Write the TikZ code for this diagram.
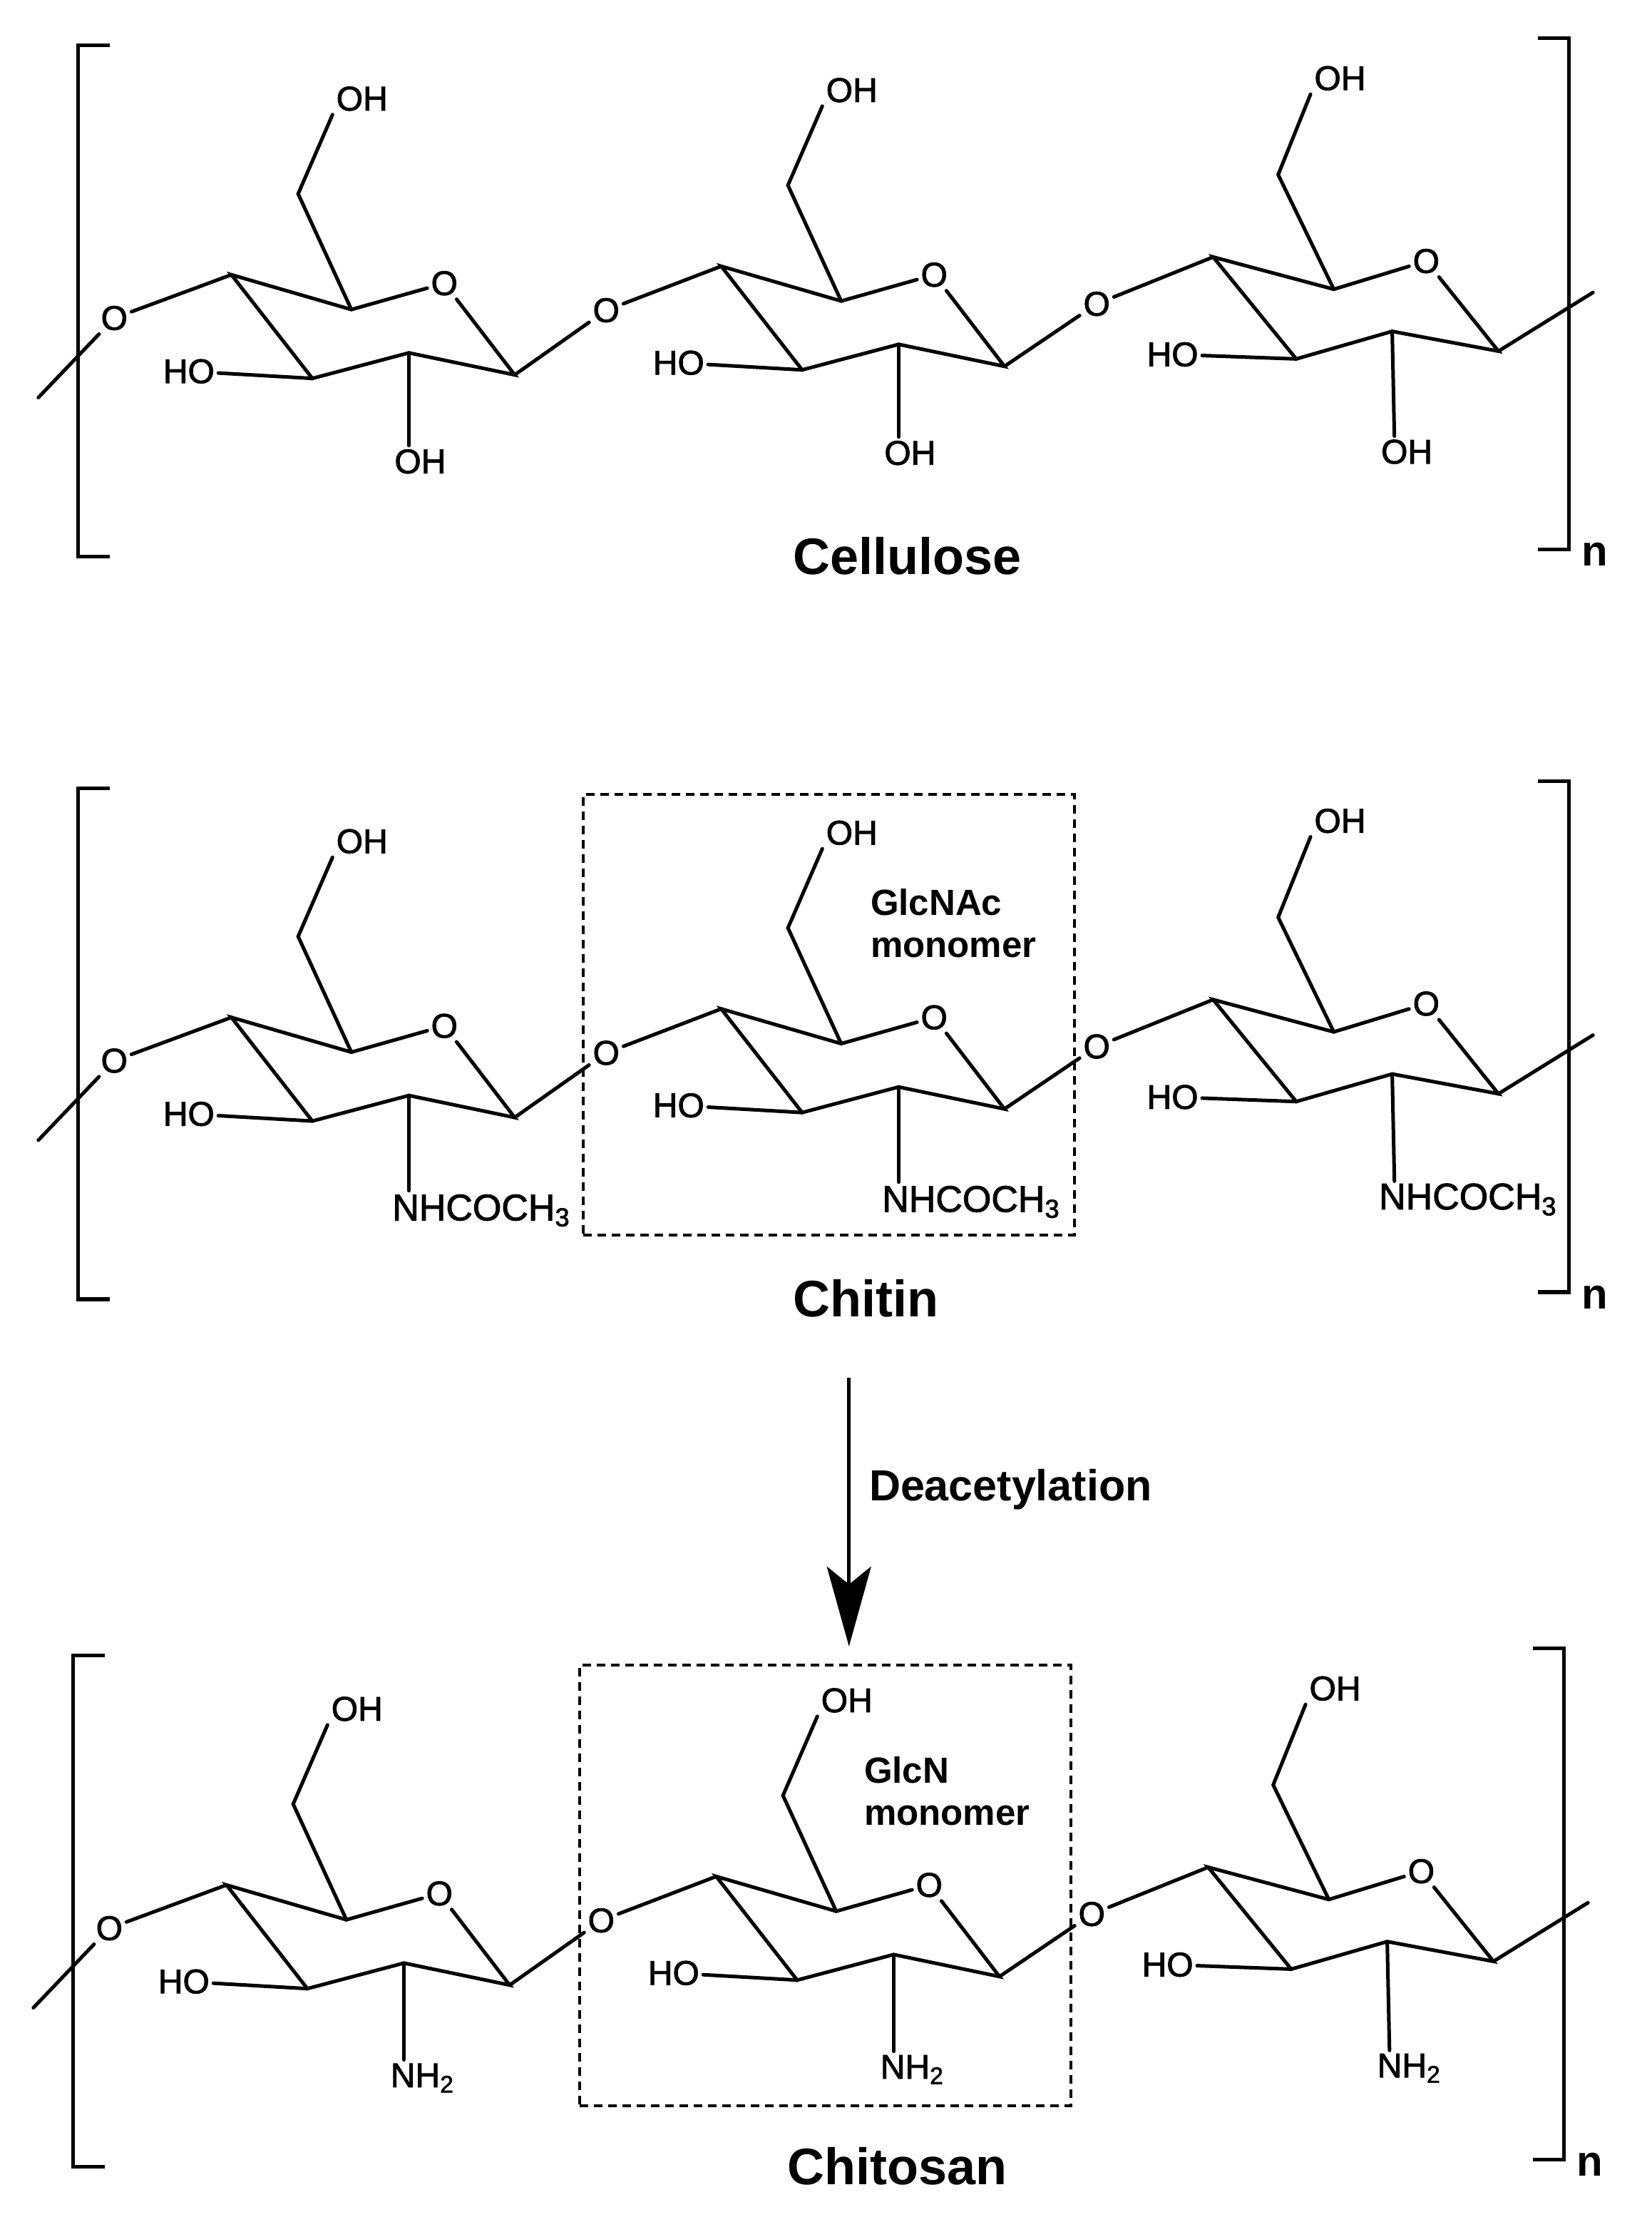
\documentclass[tikz,border=0pt]{standalone}
\usepackage{fontspec}
\setmainfont{Liberation Sans}
\newfontfamily\atomfont{Liberation Sans}[RawFeature={embolden=1.8}]
\usetikzlibrary{arrows.meta,positioning}

\tikzset{
    bond/.style={line width=2.5pt, line cap=round},
    bracketline/.style={line width=2.6pt},
    atom/.style={font=\atomfont\fontsize{24}{28}\selectfont, inner sep=2.5pt},
    polymer/.style={font=\fontsize{36}{40}\selectfont\bfseries, inner sep=0pt},
    repeatn/.style={font=\fontsize{30}{34}\selectfont\bfseries, inner sep=0pt},
    monobox/.style={draw, line width=2.1pt, dash pattern=on 6pt off 4pt, inner sep=0pt, minimum width=344.5pt, minimum height=309pt},
    monolabel/.style={font=\fontsize{25.5}{29.5}\selectfont\bfseries, align=left, anchor=west, inner sep=0pt},
}

% one ring: name, position, tilt, substituent text, its position
\newcommand{\sugarunit}[7]{
    \begin{scope}[shift={(#2,#3)}, rotate=#4]
        \coordinate (#1c4) at (0,0);
        \coordinate (#1c5) at (169,49);
        \coordinate (#1c6) at (94,-114);
        \coordinate (#1c1) at (399,141);
        \coordinate (#1c2) at (250,110);
        \coordinate (#1c3) at (114,146);
        \node [atom] (#1o) at (300,12) {O};
        \node [atom] (#1oh) at (184,-248) {OH};
        \node [atom] (#1ho) at (-60,136) {HO};
        \node [atom] (#1sub) at (#6,#7) {#5};
        \draw [bond] (#1o) -- (#1c5) -- (#1c4) -- (#1c3) -- (#1c2) -- (#1c1) -- (#1o);
        \draw [bond] (#1c5) -- (#1c6) -- (#1oh.south west);
        \draw [bond] (#1c3) -- (#1ho);
        \draw [bond] (#1c2) -- (#1sub.north -| #1c2);
    \end{scope}
}

% one chain: name, shift, title, title x, substituent text, its position
\newcommand{\sugarrow}[8]{
    \begin{scope}[shift={(#2,#3)}]
        \sugarunit{#1a}{326}{387}{0}{#6}{#7}{#8}
        \sugarunit{#1b}{1016}{375}{0}{#6}{#7}{#8}
        \sugarunit{#1d}{1709}{362}{1.2}{#6}{#7+1}{#8+17}

        % Links
        \coordinate (#1start) at (54,560);
        \coordinate (#1end) at (2244,412);
        \node [atom] (#1lo) at (161,448) {O};
        \node [atom] (#1ab) at (854,437) {O};
        \node [atom] (#1bd) at (1545,428) {O};
        \draw [bond] (#1start) -- (#1lo);
        \draw [bond] (#1lo) -- (#1ac4);
        \draw [bond] (#1ac1) -- (#1ab);
        \draw [bond] (#1ab) -- (#1bc4);
        \draw [bond] (#1bc1) -- (#1bd);
        \draw [bond] (#1bd) -- (#1dc4);
        \draw [bond] (#1dc1) -- (#1end);

        % Brackets
        \draw [bracketline] (155,64) -- (110,64) -- (110,784) -- (155,784);
        \draw [bracketline] (2166,54) -- (2210,54) -- (2210,774) -- (2166,774);
        \node [repeatn] (#1n) at (2247,781) {n};
        \node [polymer] (#1title) at (#5,783) {#4};
    \end{scope}
}

\begin{document}
\begin{tikzpicture}[x=0.4978pt, y=-0.4978pt]
    \useasboundingbox (0pt,0pt) rectangle (1158.5pt,-1561.5pt);

    % Cellulose
    \sugarrow{cel}{0}{0}{Cellulose}{1278}{OH}{266}{263}

    % Chitin
    \sugarrow{chn}{0}{1046}{Chitin}{1220}{\fontsize{26}{28}\selectfont NHCOCH\textsubscript{3}}{352}{272}
    \node [monobox] (chnbox) at (1168,1429) {};
    \node [monolabel] (chnlabel) at (1226,1300) {GlcNAc\\monomer};

    % Deacetylation
    \coordinate (reactstart) at (1196,1941);
    \coordinate (reactend) at (1196,2319);
    \draw [line width=2.5pt, -{Stealth[length=56pt, width=31pt, inset=12.5pt]}] (reactstart) -- (reactend);
    \node [font=\fontsize{30.5}{34}\selectfont\bfseries, anchor=west, inner sep=0pt] (react) at (1224,2098) {Deacetylation};

    % Chitosan
    \sugarrow{chs}{-7}{2268}{Chitosan}{1271}{NH\textsubscript{2}}{276}{272}
    \node [monobox] (chsbox) at (1162.5,2656) {};
    \node [monolabel] (chslabel) at (1217,2523) {GlcN\\monomer};
\end{tikzpicture}
\end{document}
